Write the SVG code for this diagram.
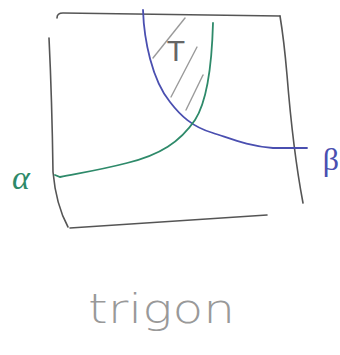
<svg xmlns="http://www.w3.org/2000/svg" width="340" height="355" viewBox="0 0 340 355">
<style>
.frame{fill:none;stroke:#555;stroke-width:1.6;stroke-linecap:round;stroke-linejoin:round}
.hatch{fill:none;stroke:#9a9a9a;stroke-width:1.4;stroke-linecap:round}
.blue{fill:none;stroke:#4a4fb0;stroke-width:1.8;stroke-linecap:round}
.green{fill:none;stroke:#2e8a6a;stroke-width:1.8;stroke-linecap:round}
</style>
<rect width="340" height="355" fill="#fff"/>
<g id="frame">
<path class="frame" d="M57,18 Q57,13 63,13 L280,16"/>
<path class="frame" d="M280,16 Q284,40 287,75 Q293,150 303,203"/>
<path class="frame" d="M49,38 Q52,100 53,172 Q56,205 68,227"/>
<path class="frame" d="M70,228 L267,215"/>
</g>
<g id="hatching">
<path class="hatch" d="M185,18 L153,58"/>
<path class="hatch" d="M197,47 L171,97"/>
<path class="hatch" d="M203,75 L186,110"/>
<text x="176" y="61" font-family="Liberation Sans, sans-serif" font-size="30" fill="#666" text-anchor="middle">T</text>
</g>
<g id="connectors">
<path id="beta-curve" class="blue" d="M143,10 C144,40 152,80 170,102 C180,115 192,127 213,133 C232,139 248,146 273,148 L307,148"/>
<path id="alpha-curve" class="green" d="M213,23 C212,60 208,100 195,120 C180,142 160,155 127,163 C100,170 80,173 60,177 L55,175"/>
</g>
<g id="alpha">
<text x="21" y="189" font-family="Liberation Serif, serif" font-style="italic" font-size="34" fill="#2e8a6a" text-anchor="middle">α</text>
</g>
<g id="beta">
<text x="331" y="170" font-family="Liberation Serif, serif" font-size="32" fill="#4a4fb0" text-anchor="middle">β</text>
</g>
<g id="title">
<text x="88" y="323" textLength="147" lengthAdjust="spacingAndGlyphs" font-family="DejaVu Sans, sans-serif" font-weight="200" font-size="40" fill="#999">trigon</text>
</g>
</svg>
